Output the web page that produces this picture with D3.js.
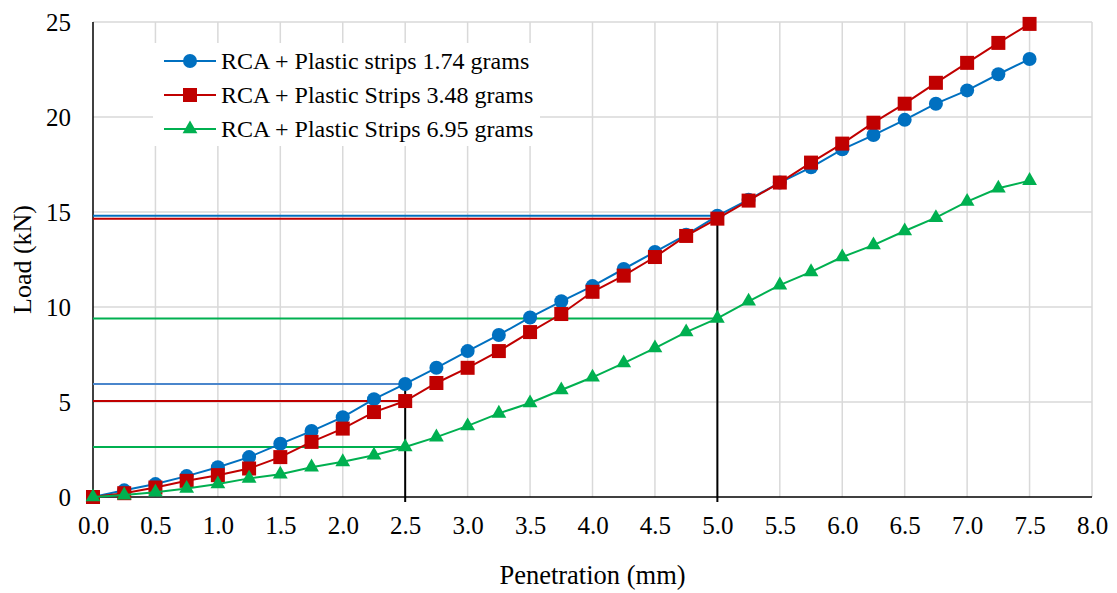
<!DOCTYPE html>
<html>
<head>
<meta charset="utf-8">
<script src="https://cdn.jsdelivr.net/npm/d3@7/dist/d3.min.js"></script>
<style>
html,body{margin:0;padding:0;background:#fff;}
svg text{font-family:"Liberation Serif","Times New Roman",serif;fill:#000;}
</style>
</head>
<body>
<svg id="chart" width="1117" height="593"></svg>
<script>
const penetration = [0,0.25,0.5,0.75,1.0,1.25,1.5,1.75,2.0,2.25,2.5,2.75,3.0,3.25,3.5,3.75,4.0,4.25,4.5,4.75,5.0,5.25,5.5,5.75,6.0,6.25,6.5,6.75,7.0,7.25,7.5];
const load174 = [0,0.35,0.68,1.1,1.57,2.1,2.8,3.47,4.2,5.15,5.95,6.8,7.68,8.53,9.45,10.3,11.1,12.0,12.9,13.8,14.8,15.65,16.55,17.35,18.3,19.05,19.85,20.7,21.4,22.25,23.05];
const load348 = [0,0.2,0.5,0.85,1.15,1.5,2.1,2.9,3.6,4.47,5.05,6.0,6.8,7.68,8.68,9.63,10.8,11.65,12.63,13.74,14.65,15.6,16.55,17.6,18.6,19.7,20.7,21.8,22.85,23.9,24.9];
const load695 = [0,0.1,0.25,0.45,0.68,0.98,1.2,1.57,1.85,2.2,2.63,3.15,3.74,4.4,4.95,5.63,6.3,7.05,7.84,8.68,9.4,10.3,11.15,11.85,12.63,13.26,14.0,14.7,15.55,16.25,16.65];
const seriesNames = ["RCA + Plastic strips 1.74 grams","RCA + Plastic Strips 3.48 grams","RCA + Plastic Strips 6.95 grams"];
const seriesColors = ["#0070c0","#c00000","#00b050"];
const seriesMarkers = ["circle","square","triangle"];
const xTicks = [0,0.5,1,1.5,2,2.5,3,3.5,4,4.5,5,5.5,6,6.5,7,7.5,8];
const yTicks = [0,5,10,15,20,25];
const refX = [2.5,5.0];

const svg = d3.select("#chart");
const m = {l:93,r:1092,t:22,b:497};
const x = d3.scaleLinear().domain([0,8]).range([m.l,m.r]);
const y = d3.scaleLinear().domain([0,25]).range([m.b,m.t]);

// gridlines
const g = svg.append("g");
g.selectAll(".hg").data(yTicks.filter(d=>d>0)).enter().append("line")
  .attr("x1",m.l).attr("x2",m.r).attr("y1",d=>y(d)).attr("y2",d=>y(d))
  .attr("stroke","#d9d9d9").attr("stroke-width",1.5);
g.selectAll(".vg").data(xTicks.filter(d=>d>0)).enter().append("line")
  .attr("x1",d=>x(d)).attr("x2",d=>x(d)).attr("y1",m.t).attr("y2",m.b)
  .attr("stroke","#d9d9d9").attr("stroke-width",1.5);

// axes
const xAxis = d3.axisBottom(x).tickValues(xTicks).tickSize(0).tickPadding(19).tickFormat(d3.format(".1f"));
const yAxis = d3.axisLeft(y).tickValues(yTicks).tickSize(0).tickPadding(22).tickFormat(d3.format("d"));
const gx = svg.append("g").attr("transform",`translate(0,${m.b})`).call(xAxis);
const gy = svg.append("g").attr("transform",`translate(${m.l},0)`).call(yAxis);
gx.select(".domain").remove(); gy.select(".domain").remove();
gx.selectAll("text").attr("font-size",25).attr("fill","#000");
gy.selectAll("text").attr("font-size",25).attr("fill","#000");
svg.append("line").attr("x1",m.l).attr("x2",m.r).attr("y1",m.b).attr("y2",m.b).attr("stroke","#000").attr("stroke-width",1.5);
svg.append("line").attr("x1",m.l).attr("x2",m.l).attr("y1",m.t).attr("y2",m.b).attr("stroke","#000").attr("stroke-width",1.5);

// axis titles
svg.append("text").attr("x",(m.l+m.r)/2).attr("y",584).attr("text-anchor","middle").attr("font-size",26.5).text("Penetration (mm)");
svg.append("text").attr("transform",`translate(31,${(m.t+m.b)/2}) rotate(-90)`).attr("text-anchor","middle").attr("font-size",26).text("Load (kN)");

const allSeries = [load174,load348,load695];

// reference lines
const refG = svg.append("g");
refX.forEach(rx=>{
  const idx = penetration.indexOf(rx);
  allSeries.forEach((s,i)=>{
    refG.append("line").attr("x1",x(0)).attr("x2",x(rx)).attr("y1",y(s[idx])).attr("y2",y(s[idx]))
      .attr("stroke",i===0 && rx===2.5 ? "#4a86cc" : seriesColors[i]).attr("stroke-width",2);
  });
  const top = d3.max(allSeries, s=>s[idx]);
  refG.append("line").attr("x1",x(rx)).attr("x2",x(rx)).attr("y1",y(top)).attr("y2",m.b+5)
    .attr("stroke","#000").attr("stroke-width",2);
});

// series
function drawMarker(sel, type, color){
  if(type==="circle"){
    sel.append("circle").attr("r",7).attr("fill",color);
  } else if(type==="square"){
    sel.append("rect").attr("x",-7).attr("y",-7).attr("width",14).attr("height",14).attr("fill",color);
  } else {
    sel.append("path").attr("d",d3.symbol().type(d3.symbolTriangle).size(95)()).attr("fill",color);
  }
}
const line = d3.line().x((d,i)=>x(penetration[i])).y(d=>y(d));
allSeries.forEach((s,i)=>{
  const sg = svg.append("g");
  sg.append("path").datum(s).attr("d",line).attr("fill","none").attr("stroke",seriesColors[i]).attr("stroke-width",2);
  s.forEach((v,j)=>{
    const mg = sg.append("g").attr("transform",`translate(${x(penetration[j])},${y(v)})`);
    drawMarker(mg, seriesMarkers[i], seriesColors[i]);
  });
});

// legend
const lg = svg.append("g");
lg.append("rect").attr("x",153).attr("y",43).attr("width",387).attr("height",103).attr("fill","#fff");
const rowsY = [61,95,129];
seriesNames.forEach((n,i)=>{
  const r = lg.append("g").attr("transform",`translate(0,${rowsY[i]})`);
  r.append("line").attr("x1",164).attr("x2",216).attr("y1",0).attr("y2",0).attr("stroke",seriesColors[i]).attr("stroke-width",2);
  const mg = r.append("g").attr("transform","translate(190,0)");
  drawMarker(mg, seriesMarkers[i], seriesColors[i]);
  r.append("text").attr("x",221).attr("y",8).attr("font-size",24).text(n);
});
</script>
</body>
</html>
